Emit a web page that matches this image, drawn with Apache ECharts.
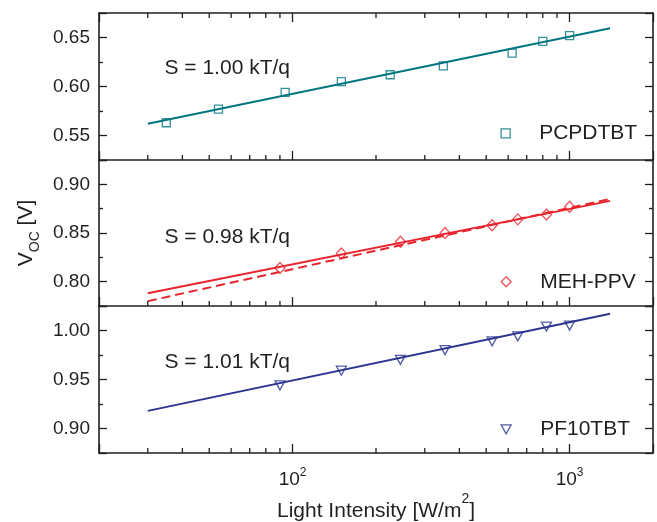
<!DOCTYPE html>
<html><head><meta charset="utf-8">
<script src="https://cdn.jsdelivr.net/npm/echarts@6/dist/echarts.min.js"></script>
<style>html,body{margin:0;padding:0;background:#fff}#c{width:657px;height:522px}</style>
</head><body><div id="c"></div>
<script>
// ---- data ----
const intensityPCPDTBT = [35, 54, 94, 150, 225, 350, 620, 800, 1000];
const vocPCPDTBT = [0.563, 0.577, 0.594, 0.605, 0.612, 0.621, 0.634, 0.646, 0.652];
const intensityOther = [90, 150, 245, 355, 525, 650, 825, 1000];
const vocMEHPPV = [0.814, 0.829, 0.841, 0.850, 0.858, 0.864, 0.869, 0.877];
const vocPF10TBT = [0.944, 0.959, 0.970, 0.980, 0.989, 0.994, 1.004, 1.005];
const fitIntensity = [30, 1400];
const fitPCPDTBT = [0.562, 0.6595];
const fitMEHPPV = [0.788, 0.883];
const fitMEHPPVdash = [0.780, 0.885];
const fitPF10TBT = [0.918, 1.017];
const minorTickValues = [30, 40, 50, 60, 70, 80, 90, 200, 300, 400, 500, 600, 700, 800, 900];
const slopeLabels = ['S = 1.00 kT/q', 'S = 0.98 kT/q', 'S = 1.01 kT/q'];
const materialNames = ['PCPDTBT', 'MEH-PPV', 'PF10TBT'];
const yRanges = [[0.525, 0.675], [0.775, 0.925], [0.875, 1.025]];
const xRange = [20, 2000];

// ---- style ----
const FONT = '"Liberation Sans", Arial, Helvetica, sans-serif';
const AX = '#231f20';
const TXT = '#231f20';
const colors = ['#00767f', '#e8242c', '#2b3590'];

const grids = [
  {left: 99, right: 4, top: 13, height: 147, outerBoundsMode: 'none'},
  {left: 99, right: 4, top: 160, height: 146, outerBoundsMode: 'none'},
  {left: 99, right: 4, top: 306, height: 147, outerBoundsMode: 'none'}
];

const axLine = {show: true, onZero: false, lineStyle: {color: AX, width: 1.6}};
const tickStyle = {color: AX, width: 1.3};

function yAxis(i, pos) {
  const a = {
    type: 'value', gridIndex: i, position: pos,
    min: yRanges[i][0], max: yRanges[i][1],
    minInterval: 0.05, maxInterval: 0.05, splitNumber: 3,
    axisLine: axLine,
    axisTick: {show: true, inside: true, length: 8, lineStyle: tickStyle},
    minorTick: {show: true, splitNumber: 2, length: 4, lineStyle: tickStyle},
    splitLine: {show: false}, minorSplitLine: {show: false},
    axisLabel: {
      show: pos === 'left', margin: 9, fontSize: 19, color: TXT, fontFamily: FONT,
      formatter: function (v) {
        return Math.abs(v * 20 - Math.round(v * 20)) < 1e-6 ? v.toFixed(2) : '';
      }
    }
  };
  if (i === 1 && pos === 'left') {
    a.name = '{v|V}{s|OC}{v| [V]}';
    a.nameLocation = 'middle';
    a.nameRotate = 90;
    a.nameGap = 45;
    a.nameTextStyle = {
      color: TXT, fontFamily: FONT,
      rich: {
        v: {fontSize: 21, fontFamily: FONT, color: TXT, verticalAlign: 'top', height: 21},
        s: {fontSize: 14, fontFamily: FONT, color: TXT, verticalAlign: 'top', height: 38}
      }
    };
  }
  return a;
}

function xAxis(i, pos, labels) {
  const a = {
    type: 'log', logBase: 10, gridIndex: i, position: pos,
    min: xRange[0], max: xRange[1],
    axisLine: axLine,
    axisTick: {show: true, inside: true, length: 9, lineStyle: tickStyle},
    minorTick: {show: false},
    splitLine: {show: false},
    axisLabel: {
      show: labels, margin: 14, color: TXT, fontFamily: FONT,
      formatter: function (v) {
        const l = Math.log10(v), e = Math.round(l);
        return Math.abs(l - e) < 1e-6 ? '{b|10}{s|' + e + '}' : '';
      },
      rich: {
        b: {fontSize: 19, fontFamily: FONT, color: TXT, verticalAlign: 'top', height: 26},
        s: {fontSize: 12, fontFamily: FONT, color: TXT, verticalAlign: 'top', height: 12}
      }
    }
  };
  if (labels) {
    a.name = '{n|Light Intensity [W/m}{s|2}{n|]}';
    a.nameLocation = 'middle';
    a.nameGap = 39;
    a.nameTextStyle = {
      color: TXT, fontFamily: FONT,
      rich: {
        n: {fontSize: 21, fontFamily: FONT, color: TXT, verticalAlign: 'top', height: 38},
        s: {fontSize: 14, fontFamily: FONT, color: TXT, verticalAlign: 'top', height: 14}
      }
    };
  }
  return a;
}

function minorTickSeries(i, withTop) {
  return {
    type: 'custom', xAxisIndex: i, yAxisIndex: i, silent: true, clip: false, z: 5,
    data: minorTickValues.map(v => [v, yRanges[i][0]]),
    renderItem: function (params, api) {
      const x = api.coord([api.value(0), api.value(1)])[0];
      const cs = params.coordSys;
      const b = cs.y + cs.height;
      const ch = [{type: 'line', shape: {x1: x, y1: b, x2: x, y2: b - 5}, style: {stroke: AX, lineWidth: 1.3}}];
      if (withTop) ch.push({type: 'line', shape: {x1: x, y1: cs.y, x2: x, y2: cs.y + 5}, style: {stroke: AX, lineWidth: 1.3}});
      return {type: 'group', children: ch};
    }
  };
}

function scatter(i, xs, ys, symbol, size, rotate) {
  return {
    type: 'scatter', name: materialNames[i], xAxisIndex: i, yAxisIndex: i,
    data: xs.map((x, k) => [x, ys[k]]),
    symbol: symbol, symbolSize: size, symbolRotate: rotate || 0, z: 4,
    itemStyle: {color: 'rgba(0,0,0,0)', borderColor: colors[i], borderWidth: 1.3}
  };
}

function fitLine(i, ys, dashed) {
  return {
    type: 'line', xAxisIndex: i, yAxisIndex: i, symbol: 'none', silent: true, z: 3,
    data: fitIntensity.map((x, k) => [x, ys[k]]),
    lineStyle: {color: colors[i], width: 2, type: dashed ? [9, 5] : 'solid'}
  };
}

const legendTops = [122.8, 271.3, 418.8];
const legendSizes = [[9, 9], [10, 10], [10, 9]];
const legendIcons = ['rect', 'diamond', 'path://M0,0L10,0L5,9Z'];
const legends = materialNames.map((n, i) => ({
  data: [{name: n, icon: legendIcons[i], itemStyle: {color: 'rgba(0,0,0,0)', borderColor: colors[i], borderWidth: 1.3}}],
  left: 500.5, top: legendTops[i], padding: 0,
  itemWidth: legendSizes[i][0], itemHeight: legendSizes[i][1], itemGap: 5, selectedMode: false,
  textStyle: {fontSize: 21, fontFamily: FONT, color: TXT, padding: [0, 0, 0, 24]}
}));

const annTops = [57.8, 226.3, 351.3];
const graphic = slopeLabels.map((t, i) => ({
  type: 'text', left: 164.5, top: annTops[i],
  style: {text: t, fontSize: 21, fontFamily: FONT, fill: TXT}
}));

const chart = echarts.init(document.getElementById('c'), null, {renderer: 'canvas'});
chart.setOption({
  animation: false,
  backgroundColor: '#fff',
  grid: grids,
  xAxis: [xAxis(0, 'bottom', false), xAxis(1, 'bottom', false), xAxis(2, 'bottom', true), xAxis(0, 'top', false)],
  yAxis: [yAxis(0, 'left'), yAxis(1, 'left'), yAxis(2, 'left'), yAxis(0, 'right'), yAxis(1, 'right'), yAxis(2, 'right')],
  legend: legends,
  graphic: graphic,
  series: [
    fitLine(0, fitPCPDTBT, false),
    fitLine(1, fitMEHPPV, false),
    fitLine(1, fitMEHPPVdash, true),
    fitLine(2, fitPF10TBT, false),
    scatter(0, intensityPCPDTBT, vocPCPDTBT, 'rect', 8),
    scatter(1, intensityOther, vocMEHPPV, 'diamond', [10, 11]),
    scatter(2, intensityOther, vocPF10TBT, 'triangle', [10, 9], 180),
    minorTickSeries(0, true),
    minorTickSeries(1, false),
    minorTickSeries(2, false)
  ]
});
</script></body></html>
